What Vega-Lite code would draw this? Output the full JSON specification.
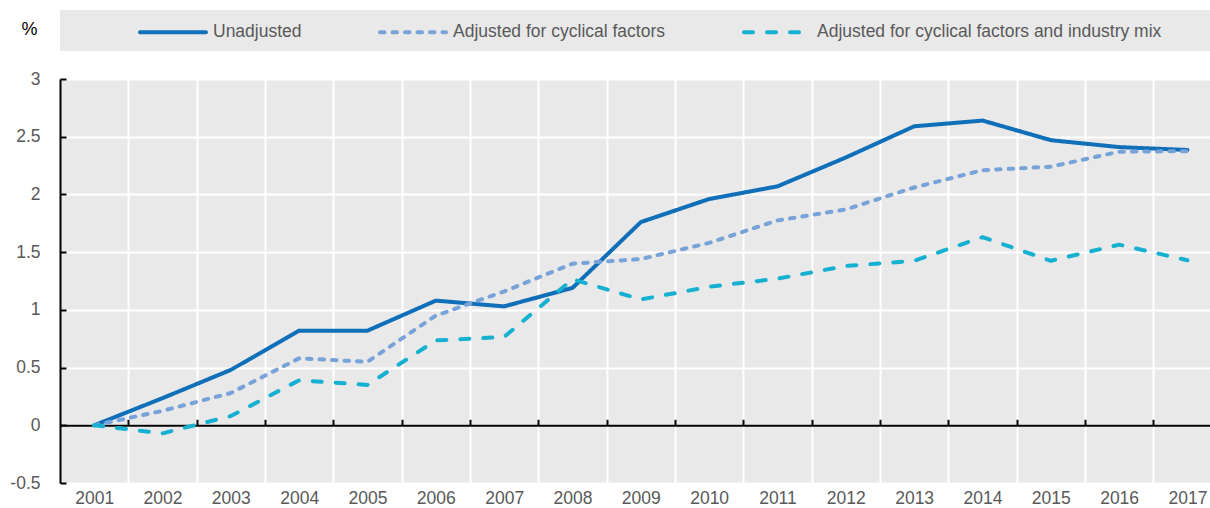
{
  "$schema": "https://vega.github.io/schema/vega-lite/v6.json",
  "width": 1150,
  "height": 404,
  "autosize": {"type": "none"},
  "padding": {"left": 60, "top": 79, "right": 0, "bottom": 25},
  "background": "white",
  "config": {
    "view": {"fill": "#e9e9e9", "stroke": null},
    "font": "Liberation Sans",
    "axis": {"labelFont": "Liberation Sans", "labelFontSize": 17.5, "labelColor": "#595959", "titleFont": "Liberation Sans"},
    "legend": {"labelFont": "Liberation Sans", "titleFont": "Liberation Sans"}
  },
  "data": {
    "values": [
      {"year": 2001, "series": "Unadjusted", "value": 0},
      {"year": 2002, "series": "Unadjusted", "value": 0.235},
      {"year": 2003, "series": "Unadjusted", "value": 0.48},
      {"year": 2004, "series": "Unadjusted", "value": 0.82},
      {"year": 2005, "series": "Unadjusted", "value": 0.82},
      {"year": 2006, "series": "Unadjusted", "value": 1.08},
      {"year": 2007, "series": "Unadjusted", "value": 1.03},
      {"year": 2008, "series": "Unadjusted", "value": 1.19},
      {"year": 2009, "series": "Unadjusted", "value": 1.76},
      {"year": 2010, "series": "Unadjusted", "value": 1.96},
      {"year": 2011, "series": "Unadjusted", "value": 2.07},
      {"year": 2012, "series": "Unadjusted", "value": 2.32},
      {"year": 2013, "series": "Unadjusted", "value": 2.59},
      {"year": 2014, "series": "Unadjusted", "value": 2.64},
      {"year": 2015, "series": "Unadjusted", "value": 2.47},
      {"year": 2016, "series": "Unadjusted", "value": 2.41},
      {"year": 2017, "series": "Unadjusted", "value": 2.385},
      {"year": 2001, "series": "Adjusted for cyclical factors", "value": 0},
      {"year": 2002, "series": "Adjusted for cyclical factors", "value": 0.125},
      {"year": 2003, "series": "Adjusted for cyclical factors", "value": 0.28},
      {"year": 2004, "series": "Adjusted for cyclical factors", "value": 0.58},
      {"year": 2005, "series": "Adjusted for cyclical factors", "value": 0.55},
      {"year": 2006, "series": "Adjusted for cyclical factors", "value": 0.95},
      {"year": 2007, "series": "Adjusted for cyclical factors", "value": 1.16},
      {"year": 2008, "series": "Adjusted for cyclical factors", "value": 1.4},
      {"year": 2009, "series": "Adjusted for cyclical factors", "value": 1.44},
      {"year": 2010, "series": "Adjusted for cyclical factors", "value": 1.58},
      {"year": 2011, "series": "Adjusted for cyclical factors", "value": 1.775},
      {"year": 2012, "series": "Adjusted for cyclical factors", "value": 1.87},
      {"year": 2013, "series": "Adjusted for cyclical factors", "value": 2.06},
      {"year": 2014, "series": "Adjusted for cyclical factors", "value": 2.21},
      {"year": 2015, "series": "Adjusted for cyclical factors", "value": 2.24},
      {"year": 2016, "series": "Adjusted for cyclical factors", "value": 2.37},
      {"year": 2017, "series": "Adjusted for cyclical factors", "value": 2.375},
      {"year": 2001, "series": "Adjusted for cyclical factors and industry mix", "value": 0},
      {"year": 2002, "series": "Adjusted for cyclical factors and industry mix", "value": -0.07},
      {"year": 2003, "series": "Adjusted for cyclical factors and industry mix", "value": 0.08},
      {"year": 2004, "series": "Adjusted for cyclical factors and industry mix", "value": 0.39},
      {"year": 2005, "series": "Adjusted for cyclical factors and industry mix", "value": 0.35},
      {"year": 2006, "series": "Adjusted for cyclical factors and industry mix", "value": 0.735},
      {"year": 2007, "series": "Adjusted for cyclical factors and industry mix", "value": 0.765},
      {"year": 2008, "series": "Adjusted for cyclical factors and industry mix", "value": 1.265},
      {"year": 2009, "series": "Adjusted for cyclical factors and industry mix", "value": 1.09},
      {"year": 2010, "series": "Adjusted for cyclical factors and industry mix", "value": 1.2},
      {"year": 2011, "series": "Adjusted for cyclical factors and industry mix", "value": 1.27},
      {"year": 2012, "series": "Adjusted for cyclical factors and industry mix", "value": 1.38},
      {"year": 2013, "series": "Adjusted for cyclical factors and industry mix", "value": 1.425},
      {"year": 2014, "series": "Adjusted for cyclical factors and industry mix", "value": 1.63},
      {"year": 2015, "series": "Adjusted for cyclical factors and industry mix", "value": 1.425},
      {"year": 2016, "series": "Adjusted for cyclical factors and industry mix", "value": 1.565},
      {"year": 2017, "series": "Adjusted for cyclical factors and industry mix", "value": 1.43}
    ]
  },
  "encoding": {
    "y": {
      "field": "value",
      "type": "quantitative",
      "scale": {"domain": [-0.5, 3], "nice": false, "zero": false},
      "axis": {
        "title": "%",
        "titleAngle": 0,
        "titleX": -31,
        "titleY": -50,
        "titleAlign": "center",
        "titleBaseline": "middle",
        "titleFontSize": 18,
        "titleFontWeight": "normal",
        "titleColor": "#000000",
        "values": [-0.5, 0, 0.5, 1, 1.5, 2, 2.5, 3],
        "labelExpr": "'' + datum.value",
        "domainColor": "#000000",
        "domainWidth": 2,
        "tickColor": "#000000",
        "tickSize": -6,
        "tickWidth": 2,
        "labelPadding": 26,
        "grid": true,
        "gridColor": "#ffffff",
        "gridWidth": 2
      }
    }
  },
  "layer": [
    {
      "mark": {"type": "point", "opacity": 0},
      "encoding": {
        "x": {
          "field": "year",
          "type": "quantitative",
          "scale": {"domain": [2000.5, 2017.33], "nice": false, "zero": false},
          "axis": {
            "orient": "top",
            "offset": -346.3,
            "title": null,
            "values": [2001.5, 2002.5, 2003.5, 2004.5, 2005.5, 2006.5, 2007.5, 2008.5, 2009.5, 2010.5, 2011.5, 2012.5, 2013.5, 2014.5, 2015.5, 2016.5],
            "labels": false,
            "domain": true,
            "domainColor": "#000000",
            "domainWidth": 2,
            "ticks": true,
            "tickColor": "#000000",
            "tickSize": 6,
            "tickWidth": 2,
            "grid": true,
            "gridColor": "#ffffff",
            "gridWidth": 2
          }
        }
      }
    },
    {
      "mark": {"type": "line", "strokeWidth": 4, "strokeCap": "round", "strokeJoin": "round"},
      "encoding": {
        "x": {
          "field": "year",
          "type": "quantitative",
          "scale": {"domain": [2000.5, 2017.33], "nice": false, "zero": false},
          "axis": {
            "orient": "bottom",
            "title": null,
            "values": [2001, 2002, 2003, 2004, 2005, 2006, 2007, 2008, 2009, 2010, 2011, 2012, 2013, 2014, 2015, 2016, 2017],
            "labelExpr": "'' + datum.value",
            "domain": false,
            "ticks": false,
            "grid": false,
            "labelPadding": 6
          }
        },
        "color": {
          "field": "series",
          "type": "nominal",
          "scale": {
            "domain": ["Unadjusted", "Adjusted for cyclical factors", "Adjusted for cyclical factors and industry mix"],
            "range": ["#0f6fb9", "#77a3d8", "#16b0d1"]
          },
          "legend": {
            "orient": "none",
            "legendX": 0,
            "legendY": -69,
            "direction": "horizontal",
            "fillColor": "#e9e9e9",
            "padding": 10,
            "symbolType": "M-3.3,0H3.3",
            "symbolSize": 400,
            "symbolStrokeWidth": 4,
            "symbolOffset": 91,
            "labelOffset": 28,
            "columnPadding": 8,
            "labelFontSize": 17.5,
            "labelColor": "#595959",
            "labelLimit": 600,
            "title": "\u00a0",
            "titleOrient": "right",
            "titlePadding": 40,
            "titleFontSize": 17.5,
            "encode": {"symbols": {"update": {"strokeCap": {"value": "round"}}}}
          }
        },
        "strokeDash": {
          "field": "series",
          "type": "nominal",
          "scale": {
            "domain": ["Unadjusted", "Adjusted for cyclical factors", "Adjusted for cyclical factors and industry mix"],
            "range": [[1, 0], [4.5, 8], [9, 14]]
          }
        }
      }
    }
  ],
  "resolve": {"axis": {"x": "independent"}}
}
